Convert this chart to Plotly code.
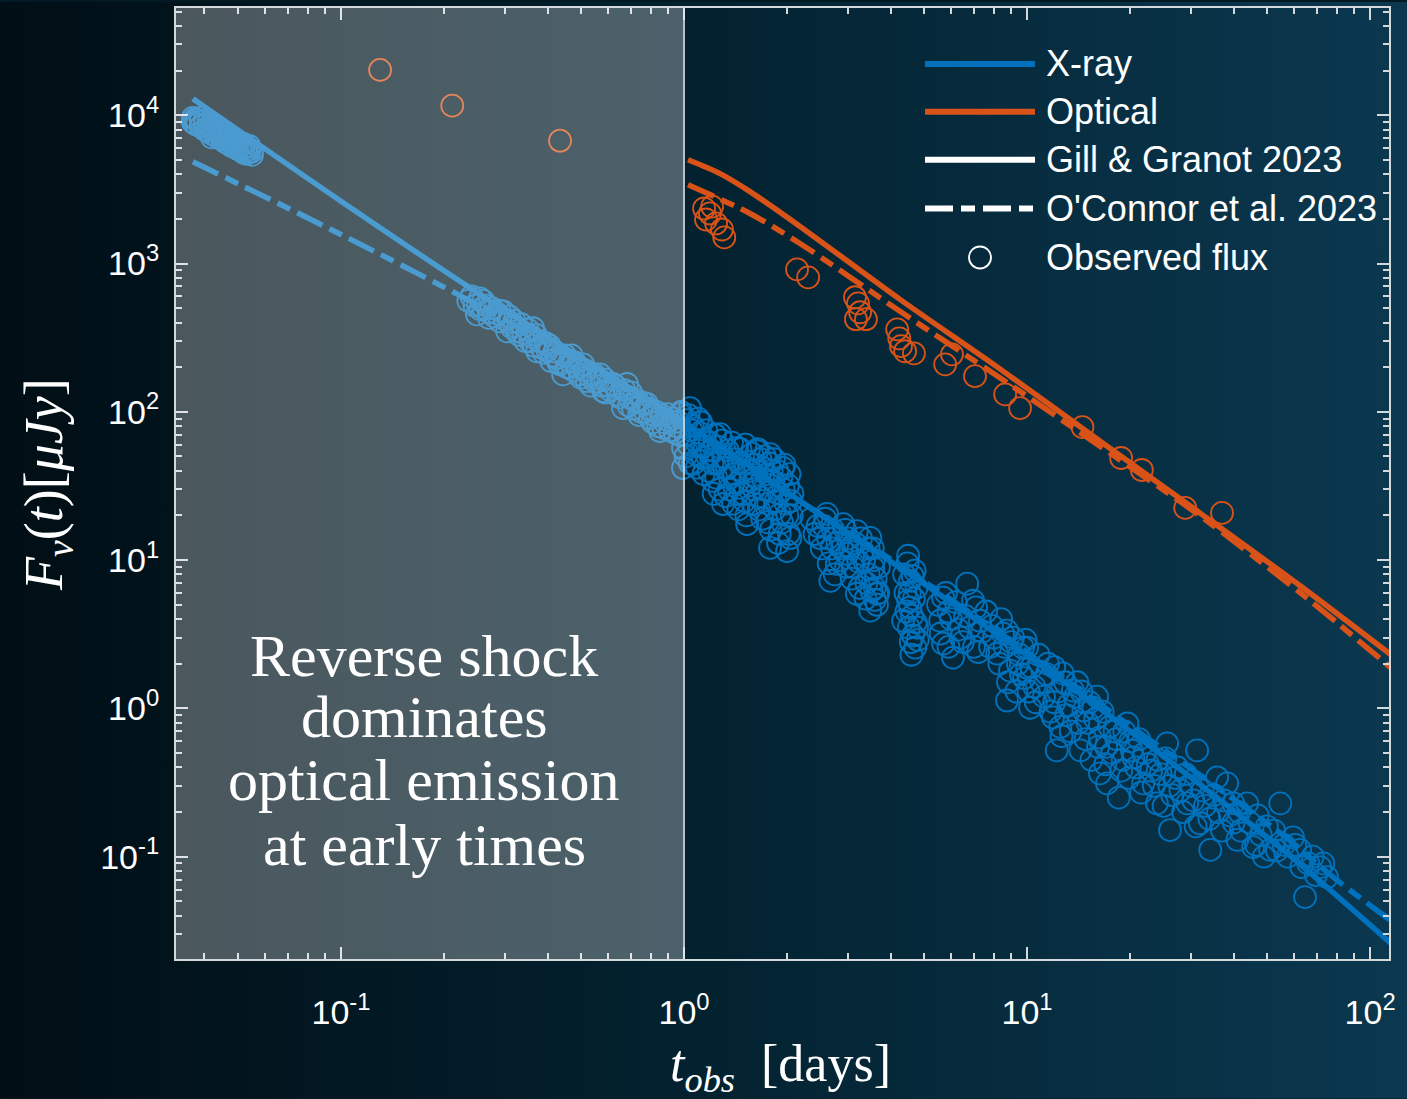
import base64
import numpy as np
import plotly.graph_objects as go

# ---------------- observed X-ray flux: (days, microJy) ----------------
xray_early = [
    (0.037, 9600), (0.037, 9000), (0.038, 9300), (0.038, 8600), (0.039, 9100), (0.040, 8600),
    (0.040, 8000), (0.041, 8800), (0.041, 7900), (0.042, 8200), (0.042, 7500), (0.043, 7800),
    (0.044, 7600), (0.044, 7000), (0.045, 7300), (0.046, 7100), (0.046, 6600), (0.047, 6800),
    (0.048, 6600), (0.048, 6200), (0.049, 6400), (0.050, 6300), (0.050, 5900), (0.052, 6000),
    (0.053, 5800), (0.054, 5600), (0.054, 5900),
    (0.0375, 9400), (0.0375, 8800), (0.039, 8400), (0.039, 9600), (0.040, 9200), (0.041, 8300),
    (0.042, 8600), (0.042, 7100), (0.043, 7300), (0.043, 8200), (0.044, 8100), (0.045, 6900),
    (0.045, 7700), (0.046, 7500), (0.047, 6400), (0.047, 7200), (0.048, 7000), (0.049, 6100),
    (0.049, 6800), (0.050, 6600), (0.051, 6200), (0.051, 5800), (0.052, 6400), (0.052, 5600),
    (0.053, 6100), (0.053, 5500), (0.054, 6200), (0.055, 5700), (0.055, 5400),
]
xray_mid = [
    (0.251, 531), (0.249, 454), (0.254, 582), (0.297, 476), (0.305, 349), (0.291, 407),
    (0.363, 366), (0.356, 299), (0.373, 256), (0.435, 209), (0.444, 179), (0.426, 230),
    (0.508, 209), (0.521, 161), (0.497, 179), (0.569, 179), (0.581, 138), (0.621, 154),
    (0.682, 154), (0.696, 124), (0.664, 106), (0.780, 113), (0.796, 90.7), (0.851, 74.2),
    (0.892, 96.5),
    (0.26, 500), (0.27, 430), (0.32, 380), (0.33, 330), (0.40, 260), (0.41, 220), (0.46, 200),
    (0.47, 240), (0.55, 160), (0.60, 150), (0.64, 130), (0.72, 118), (0.75, 100), (0.82, 95),
    (0.88, 85), (0.95, 80),
    (0.235, 560), (0.24, 600), (0.245, 520), (0.255, 490), (0.26, 560), (0.265, 520), (0.27, 470),
    (0.275, 500), (0.28, 440), (0.285, 460), (0.29, 480), (0.30, 420), (0.31, 400), (0.31, 440),
    (0.315, 370), (0.32, 410), (0.325, 350), (0.335, 390), (0.34, 340), (0.345, 300), (0.35, 360),
    (0.36, 320), (0.365, 280), (0.37, 330), (0.38, 300), (0.385, 270), (0.39, 250), (0.395, 290),
    (0.405, 280), (0.415, 240), (0.42, 255), (0.43, 215), (0.45, 240), (0.455, 200), (0.465, 220),
    (0.475, 190), (0.48, 215), (0.49, 200), (0.50, 170), (0.515, 190), (0.53, 175), (0.535, 150),
    (0.545, 180), (0.56, 160), (0.575, 150), (0.59, 165), (0.59, 135), (0.61, 140), (0.63, 150),
    (0.65, 125), (0.67, 140), (0.69, 110), (0.70, 135), (0.71, 105), (0.73, 120), (0.74, 95),
    (0.76, 115), (0.77, 100), (0.79, 105), (0.81, 85), (0.83, 100), (0.84, 80), (0.86, 95),
    (0.87, 78), (0.90, 88), (0.91, 75), (0.93, 90), (0.94, 72), (0.96, 86), (0.97, 70), (0.98, 100),
]
xray_day1 = [
    (0.973, 96.5), (1.041, 106), (0.993, 57.0), (1.062, 44.5), (0.993, 41.8),
    (1.274, 70.8), (1.427, 57.0), (1.633, 54.4), (1.781, 51.9), (1.943, 41.8), (1.215, 34.2),
    (1.299, 23.9), (1.527, 17.5), (1.781, 12.1), (1.997, 11.5), (2.04, 14.1), (1.781, 29.3),
    (1.557, 34.2), (1.427, 27.9), (1.905, 20.5), (1.335, 41.8), (1.699, 41.8), (1.136, 48.8),
    (1.05, 75), (1.10, 60), (1.15, 65), (1.20, 55), (1.25, 45), (1.30, 50), (1.35, 30), (1.40, 38),
    (1.45, 45), (1.50, 25), (1.55, 40), (1.60, 30), (1.65, 22), (1.70, 35), (1.75, 18), (1.80, 40),
    (1.85, 25), (1.90, 15), (1.95, 30), (2.00, 20), (2.05, 25), (1.12, 85), (1.02, 88), (1.08, 52),
    (1.18, 40),
    (1.01, 70), (1.01, 50), (1.03, 95), (1.03, 60), (1.04, 45), (1.06, 80), (1.07, 65), (1.09, 42),
    (1.10, 90), (1.11, 72), (1.13, 58), (1.14, 38), (1.16, 75), (1.17, 50), (1.19, 62), (1.21, 45),
    (1.22, 28), (1.23, 70), (1.24, 36), (1.26, 58), (1.27, 30), (1.29, 64), (1.31, 42), (1.32, 27),
    (1.34, 55), (1.36, 36), (1.38, 62), (1.39, 24), (1.41, 48), (1.43, 33), (1.44, 22), (1.46, 56),
    (1.48, 40), (1.49, 28), (1.51, 60), (1.52, 20), (1.54, 46), (1.56, 32), (1.58, 52), (1.59, 24),
    (1.61, 44), (1.62, 36), (1.64, 56), (1.66, 27), (1.67, 48), (1.69, 19), (1.71, 30), (1.72, 50),
    (1.74, 38), (1.76, 24), (1.77, 45), (1.79, 16), (1.82, 34), (1.83, 48), (1.84, 22), (1.87, 40),
    (1.88, 13), (1.89, 28), (1.92, 36), (1.93, 18), (1.96, 44), (1.98, 24), (2.01, 32), (2.02, 15),
    (2.03, 38), (2.06, 20), (2.07, 28),
]
xray_day3 = [
    (2.61, 20.5), (2.49, 14.1), (2.67, 7.25), (2.91, 17.5), (3.19, 15.7), (2.99, 11.0), (3.49, 14.1),
    (3.56, 8.87), (3.65, 5.93), (3.49, 4.56), (3.19, 5.93), (2.79, 9.44),
    (2.55, 17), (2.70, 12), (2.85, 10), (3.00, 14), (3.10, 9), (3.30, 11), (3.40, 7), (3.60, 6.5),
    (3.55, 12), (3.65, 5.0), (3.60, 5.4),
    (2.35, 19), (2.40, 15), (2.45, 17), (2.52, 12), (2.58, 19), (2.63, 14), (2.64, 9.5), (2.72, 16),
    (2.75, 8.0), (2.80, 13), (2.88, 12), (2.95, 16), (2.97, 9), (3.05, 12), (3.08, 7.5), (3.15, 13),
    (3.22, 9.8), (3.25, 6.5), (3.28, 14), (3.35, 10), (3.38, 5.5), (3.45, 12), (3.45, 8), (3.52, 6.2),
    (3.58, 10), (3.62, 7.5), (3.68, 6.0), (3.70, 9.0),
    (4.50, 10.7), (4.56, 7.25), (4.56, 4.78), (4.78, 3.50), (4.72, 2.57), (4.35, 3.90), (4.60, 2.3),
    (4.55, 6.0), (4.70, 8.5), (4.65, 3.1), (4.50, 5.3),
    (4.38, 8), (4.42, 6), (4.45, 4.5), (4.48, 9.5), (4.52, 3.5), (4.58, 2.8), (4.62, 4.2), (4.64, 7.8),
    (4.68, 5.5), (4.74, 3.8), (4.76, 6.5), (4.80, 2.9),
]
xray_week = [
    (5.69, 5.58), (6.69, 6.93), (6.96, 5.32), (5.58, 3.90), (5.69, 2.73), (6.08, 2.20), (7.29, 3.90),
    (8.51, 3.19), (8.18, 2.34), (9.73, 2.57), (10.0, 1.88), (5.9, 4.5), (6.3, 3.4), (7.6, 4.5),
    (8.0, 3.0), (9.0, 2.8), (9.4, 2.0), (6.5, 2.8), (7.0, 2.6),
    (5.5, 5.0), (5.6, 3.2), (5.8, 6.0), (5.9, 2.6), (6.0, 4.0), (6.2, 5.2), (6.4, 3.0), (6.6, 4.2),
    (6.8, 3.5), (7.1, 4.8), (7.2, 2.4), (7.4, 3.3), (7.8, 2.6), (7.9, 3.6), (8.3, 2.0), (8.4, 4.0),
    (8.6, 2.6), (8.8, 1.5), (9.1, 3.0), (9.3, 1.3), (9.5, 2.3), (9.6, 1.7), (9.9, 2.9), (10.1, 1.3),
]
xray_late = [
    (8.74, 3.34), (10.0, 2.57), (8.92, 1.80), (8.74, 1.13), (10.2, 1.01), (12.7, 1.72), (13.6, 1.32),
    (11.9, 0.869), (12.2, 0.521), (14.6, 0.968), (15.6, 1.01), (16.3, 0.637), (14.3, 0.521),
    (19.6, 0.791), (17.1, 0.312), (16.3, 0.365), (20.4, 0.467), (21.8, 0.312), (25.6, 0.581),
    (26.1, 0.151), (31.3, 0.521), (27.4, 0.400), (23.9, 0.229), (29.3, 0.229), (34.2, 0.111),
    (31.9, 0.168), (35.8, 0.343), (38.3, 0.312), (39.9, 0.229), (43.8, 0.229), (45.6, 0.116),
    (54.7, 0.229), (51.1, 0.111), (59.6, 0.135), (62.5, 0.111), (71.5, 0.085), (74.9, 0.0728),
    (64.6, 0.0534),
    (11.0, 1.5), (11.5, 2.0), (12.0, 1.1), (13.0, 0.9), (14.0, 1.5), (15.0, 0.8), (16.0, 1.2),
    (17.0, 0.55), (18.0, 0.7), (19.0, 0.45), (20.0, 0.6), (22.0, 0.5), (23.0, 0.38), (24.0, 0.45),
    (26.0, 0.3), (28.0, 0.28), (30.0, 0.3), (33.0, 0.22), (36.0, 0.2), (40.0, 0.17), (42.0, 0.15),
    (48.0, 0.14), (50.0, 0.16), (56.0, 0.12), (66.0, 0.09), (10.5, 1.4), (9.8, 1.6), (18.5, 0.25),
    (12.5, 0.75),
    (10.3, 1.9), (10.6, 1.1), (10.8, 2.3), (11.2, 1.2), (11.4, 1.7), (11.7, 0.95), (12.0, 1.9),
    (12.3, 1.3), (12.6, 0.65), (12.9, 1.5), (13.2, 1.05), (13.4, 0.7), (13.8, 1.2), (14.1, 0.8),
    (14.4, 1.3), (14.8, 0.62), (15.2, 1.1), (15.4, 0.45), (15.8, 0.85), (16.1, 0.55), (16.6, 0.95),
    (16.9, 0.42), (17.4, 0.75), (17.7, 0.5), (18.2, 0.62), (18.8, 0.38), (19.2, 0.7), (19.8, 0.34),
    (20.2, 0.52), (20.8, 0.4), (21.2, 0.62), (21.5, 0.27), (22.5, 0.42), (23.4, 0.3), (24.5, 0.36),
    (25.0, 0.22), (25.3, 0.46), (26.5, 0.26), (27.0, 0.34), (28.5, 0.2), (29.0, 0.36), (30.5, 0.24),
    (31.0, 0.16), (32.5, 0.28), (34.0, 0.18), (35.0, 0.26), (37.0, 0.15), (37.5, 0.24), (39.0, 0.19),
    (41.0, 0.13), (41.5, 0.2), (44.5, 0.17), (46.5, 0.12), (47.0, 0.19), (49.0, 0.1), (52.5, 0.15),
    (53.5, 0.11), (57.5, 0.1), (60.5, 0.12), (63.0, 0.085), (68.0, 0.1), (69.5, 0.075), (73.0, 0.09),
]

# ---------------- observed optical flux: (days, microJy) ----------------
optical_obs = [
    (0.130, 20200), (0.211, 11600), (0.435, 6730),
    (1.144, 2350), (1.190, 2175), (1.159, 1980), (1.240, 1862), (1.290, 1696), (1.310, 1500),
    (1.207, 2420), (2.135, 912), (2.300, 806), (3.150, 592), (3.215, 539), (3.260, 469),
    (3.390, 421), (3.170, 421), (4.180, 360), (4.240, 313), (4.290, 277), (4.410, 256),
    (4.680, 248), (5.770, 209), (6.040, 244), (7.050, 174), (8.630, 131), (9.540, 106),
    (14.5, 78.9), (18.8, 48.8), (21.6, 40.5), (28.9, 22.5), (37.0, 20.8),
]

# ---------------- model light curves ----------------
xray_gg_t = [0.037, 0.1, 0.254, 0.5, 1.0, 2.3, 4.56, 10, 20, 55.7, 115]
xray_gg_f = [12900, 2630, 620, 232, 85, 23, 8.0, 2.28, 0.70, 0.111, 0.026]
xray_oc_t = [0.037, 0.1, 0.233, 0.5, 1.0, 2.3, 4.56, 10, 20, 55.7, 80, 115]
xray_oc_f = [4860, 1570, 573, 215, 82, 23, 8.3, 2.4, 0.76, 0.14, 0.0695, 0.037]
opt_gg_t = [1.027, 1.274, 1.557, 2.178, 4.26, 8.35, 16.3, 31.9, 62.5, 115]
opt_gg_f = [5010, 4040, 3055, 1778, 573, 194, 63.5, 20.8, 6.71, 2.3]
opt_oc_t = [1.027, 1.557, 2.178, 4.26, 8.35, 16.3, 31.9, 62.5, 115]
opt_oc_f = [3400, 2175, 1365, 476, 169, 58.7, 19.9, 6.03, 1.88]

# ---------------- axes / labels ----------------
x_tick_vals = [0.1, 1, 10, 100]
x_tick_text = ["10<sup>-1</sup>", "10<sup>0</sup>", "10<sup>1</sup>", "10<sup>2</sup>"]
y_tick_vals = [0.1, 1, 10, 100, 1000, 10000]
y_tick_text = ["10<sup>-1</sup>", "10<sup>0</sup>", "10<sup>1</sup>",
               "10<sup>2</sup>", "10<sup>3</sup>", "10<sup>4</sup>"]
legend_labels = ["X-ray", "Optical", "Gill & Granot 2023", "O'Connor et al. 2023", "Observed flux"]
note_lines = ["Reverse shock", "dominates", "optical emission", "at early times"]
shade_end = 1.0  # days

BLUE = "#0072BD"
ORANGE = "#D95319"
AX = "#d3d8db"
SANS = "Liberation Sans, Arial, Helvetica, sans-serif"
SERIF = "Liberation Serif, Times New Roman, serif"
DASH = "28px,8px,14px,8px"

W, H = 1407, 1099
ML, MR, MT, MB = 176, 18, 6, 140
PW, PH = W - ML - MR, H - MT - MB
x_range = [-1.481, 2.055]
y_range = [-1.690, 4.723]


def px(x):
    return (x - ML) / PW


def py(y):
    return (H - MB - y) / PH


def minor_vals(lo, hi):
    return [k * 10.0 ** n for n in range(lo, hi) for k in range(2, 10)]


fig = go.Figure()

for t, f, col, dash, shape in [
    (xray_gg_t, xray_gg_f, BLUE, "solid", "spline"),
    (xray_oc_t, xray_oc_f, BLUE, DASH, "spline"),
    (opt_gg_t, opt_gg_f, ORANGE, "solid", "spline"),
    (opt_oc_t, opt_oc_f, ORANGE, DASH, "spline"),
]:
    fig.add_trace(go.Scatter(x=t, y=f, mode="lines",
                             line=dict(color=col, width=5.5, dash=dash, shape=shape, smoothing=0.8),
                             showlegend=False, hoverinfo="skip"))

xray_obs = xray_early + xray_mid + xray_day1 + xray_day3 + xray_week + xray_late
for pts, col in [(xray_obs, BLUE), (optical_obs, ORANGE)]:
    fig.add_trace(go.Scatter(x=[p[0] for p in pts], y=[p[1] for p in pts], mode="markers",
                             marker=dict(symbol="circle-open", size=22, color=col,
                                         line=dict(width=1.8, color=col)),
                             showlegend=False, hoverinfo="skip"))

# background gradient behind the whole page
svg = ('<svg xmlns="http://www.w3.org/2000/svg" width="1407" height="1099">'
       '<defs><linearGradient id="g" x1="0" y1="0" x2="1" y2="0">'
       '<stop offset="0" stop-color="#010e15"/><stop offset="0.5" stop-color="#032230"/>'
       '<stop offset="1" stop-color="#0b3850"/></linearGradient></defs>'
       '<rect width="1407" height="1099" fill="url(#g)"/></svg>')
src = "data:image/svg+xml;base64," + base64.b64encode(svg.encode()).decode()
images = [dict(source=src, xref="paper", yref="paper", x=-ML / PW, y=1 + MT / PH,
               sizex=W / PW, sizey=H / PH, xanchor="left", yanchor="top",
               sizing="stretch", layer="below")]

shade_x1 = (np.log10(shade_end) - x_range[0]) / (x_range[1] - x_range[0])
shapes = [
    dict(type="rect", xref="paper", yref="paper", x0=0, x1=shade_x1, y0=0, y1=1,
         fillcolor="rgba(255,255,255,0.29)", line=dict(width=0), layer="above"),
    dict(type="line", xref="paper", yref="paper", x0=shade_x1, x1=shade_x1, y0=0, y1=1,
         line=dict(color="#e4e8ea", width=1.5), layer="above"),
]

annotations = []
# legend
leg_y = [62, 110, 158, 207, 256]
leg_style = [(BLUE, "solid"), (ORANGE, "solid"), ("white", "solid"), ("white", DASH)]
for i, (col, dash) in enumerate(leg_style):
    shapes.append(dict(type="line", xref="paper", yref="paper", x0=px(925), x1=px(1035),
                       y0=py(leg_y[i]), y1=py(leg_y[i]), line=dict(color=col, width=6, dash=dash)))
shapes.append(dict(type="circle", xref="paper", yref="paper", xsizemode="pixel", ysizemode="pixel",
                   xanchor=px(980), yanchor=py(leg_y[4]), x0=-11, x1=11, y0=-11, y1=11,
                   line=dict(color="white", width=1.8)))
for lab, yy in zip(legend_labels, leg_y):
    annotations.append(dict(text=lab, xref="paper", yref="paper", x=px(1044), y=py(yy),
                            xanchor="left", yanchor="middle", showarrow=False,
                            font=dict(family=SANS, size=36, color="white")))

# note in the shaded window
for line, yy in zip(note_lines, [655, 716, 780, 845]):
    annotations.append(dict(text=line, xref="paper", yref="paper", x=px(424), y=py(yy),
                            xanchor="center", yanchor="middle", showarrow=False,
                            font=dict(family=SERIF, size=60, color="white")))

# axis titles
annotations.append(dict(text="<i>t</i><sub><i>obs</i></sub>\u00a0\u00a0[days]", xref="paper", yref="paper",
                        x=px(780), y=py(1068), xanchor="center", yanchor="middle", showarrow=False,
                        font=dict(family=SERIF, size=52, color="white")))
annotations.append(dict(text="<i>F</i><sub><i>ν</i></sub>(<i>t</i>)[<i>μJy</i>]", xref="paper",
                        yref="paper", x=px(48), y=py(484), xanchor="center", yanchor="middle",
                        textangle=-90, showarrow=False,
                        font=dict(family=SERIF, size=54, color="white")))

axis_common = dict(type="log", tickmode="array", ticks="inside", ticklen=12, tickwidth=1.5,
                   tickcolor=AX, showline=True, linecolor=AX, linewidth=2, mirror="allticks",
                   showgrid=False, zeroline=False,
                   tickfont=dict(family=SANS, size=34, color="white"))

fig.update_layout(
    width=W, height=H, autosize=False,
    margin=dict(l=ML, r=MR, t=MT, b=MB),
    paper_bgcolor="#031a24", plot_bgcolor="rgba(0,0,0,0)",
    images=images, shapes=shapes, annotations=annotations,
    showlegend=False,
    xaxis=dict(range=x_range, tickvals=x_tick_vals, ticktext=x_tick_text, ticklabelstandoff=22,
               minor=dict(tickmode="array", tickvals=minor_vals(-2, 3), ticks="inside", ticklen=6,
                          tickwidth=1.5, tickcolor=AX, showgrid=False),
               **axis_common),
    yaxis=dict(range=y_range, tickvals=y_tick_vals, ticktext=y_tick_text, ticklabelstandoff=8,
               minor=dict(tickmode="array", tickvals=minor_vals(-2, 5), ticks="inside", ticklen=6,
                          tickwidth=1.5, tickcolor=AX, showgrid=False),
               **axis_common),
)

fig.write_html("out.html")
